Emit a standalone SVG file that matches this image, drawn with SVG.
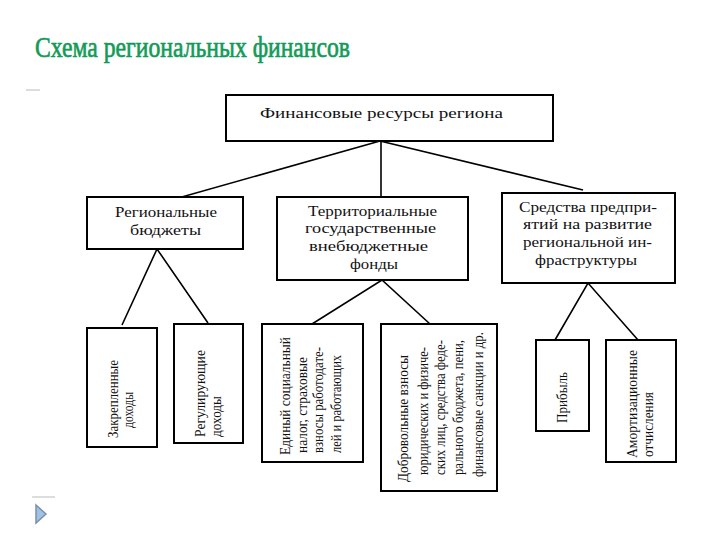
<svg xmlns="http://www.w3.org/2000/svg" width="720" height="540" viewBox="0 0 720 540">
<style>
.box{fill:#fff;stroke:#000;stroke-width:2}
.t{font-family:"Liberation Serif","Times New Roman",serif;font-size:15.5px;fill:#111}
.v{font-family:"Liberation Serif","Times New Roman",serif;font-size:14px;fill:#111}
.c{stroke:#000;stroke-width:1.6;fill:none}
</style>
<rect width="720" height="540" fill="#fff"/>
<text x="35" y="57" font-family="'Liberation Serif','Times New Roman',serif" font-size="30" fill="#129b58" stroke="#129b58" stroke-width="0.7" textLength="315" lengthAdjust="spacingAndGlyphs">Схема региональных финансов</text>
<line x1="26" y1="90" x2="40" y2="90" stroke="#bbb" stroke-width="1"/>
<line x1="32" y1="497" x2="55" y2="497" stroke="#bbb" stroke-width="1"/>
<polygon points="36,505 46,514 36,523" fill="#9cc3e6" stroke="#7f8fa6" stroke-width="1.5"/>
<g id="connectors">
<path class="c" d="M380,141 L157,204"/>
<path class="c" d="M381,141 L381,197"/>
<path class="c" d="M380,141 L583,190"/>
<path class="c" d="M122,325 L157,249 L208,323"/>
<path class="c" d="M312,324 L382,280 L430,324"/>
<path class="c" d="M555,340 L588,283 L638,340"/>
</g>
<g id="n-top">
<rect class="box" x="226" y="95" width="327" height="46"/>
<text class="t" x="260" y="118" textLength="243" lengthAdjust="spacingAndGlyphs">Финансовые ресурсы региона</text>
</g>
<g id="n-budgets">
<rect class="box" x="87" y="197" width="156" height="52"/>
<text class="t" x="115" y="217" textLength="102" lengthAdjust="spacingAndGlyphs">Региональные</text>
<text class="t" x="130" y="235" textLength="71" lengthAdjust="spacingAndGlyphs">бюджеты</text>
</g>
<g id="n-funds">
<rect class="box" x="277" y="197" width="191" height="83"/>
<text class="t" x="308" y="216" textLength="129" lengthAdjust="spacingAndGlyphs">Территориальные</text>
<text class="t" x="305" y="233" textLength="131" lengthAdjust="spacingAndGlyphs">государственные</text>
<text class="t" x="309" y="251" textLength="119" lengthAdjust="spacingAndGlyphs">внебюджетные</text>
<text class="t" x="350" y="269" textLength="48" lengthAdjust="spacingAndGlyphs">фонды</text>
</g>
<g id="n-enterprise">
<rect class="box" x="502" y="193" width="173" height="90"/>
<text class="t" x="519" y="212" textLength="138" lengthAdjust="spacingAndGlyphs">Средства предпри-</text>
<text class="t" x="523" y="229" textLength="129" lengthAdjust="spacingAndGlyphs">ятий на развитие</text>
<text class="t" x="523" y="247" textLength="129" lengthAdjust="spacingAndGlyphs">региональной ин-</text>
<text class="t" x="535" y="265" textLength="102" lengthAdjust="spacingAndGlyphs">фраструктуры</text>
</g>
<g id="n-fixed">
<rect class="box" x="87" y="328" width="70" height="119"/>
<text class="v" transform="translate(118,438) rotate(-90)" textLength="78" lengthAdjust="spacingAndGlyphs">Закрепленные</text>
<text class="v" transform="translate(133,428) rotate(-90)" textLength="36" lengthAdjust="spacingAndGlyphs">доходы</text>
</g>
<g id="n-regulating">
<rect class="box" x="174" y="324" width="69" height="119"/>
<text class="v" transform="translate(205,437) rotate(-90)" textLength="87" lengthAdjust="spacingAndGlyphs">Регулирующие</text>
<text class="v" transform="translate(221,437) rotate(-90)" textLength="41" lengthAdjust="spacingAndGlyphs">доходы</text>
</g>
<g id="n-social">
<rect class="box" x="262" y="324" width="101" height="138"/>
<text class="v" transform="translate(290,455) rotate(-90)" textLength="118" lengthAdjust="spacingAndGlyphs">Единый социальный</text>
<text class="v" transform="translate(307,453) rotate(-90)" textLength="96" lengthAdjust="spacingAndGlyphs">налог, страховые</text>
<text class="v" transform="translate(323,453) rotate(-90)" textLength="106" lengthAdjust="spacingAndGlyphs">взносы работодате-</text>
<text class="v" transform="translate(341,453) rotate(-90)" textLength="98" lengthAdjust="spacingAndGlyphs">лей и работающих</text>
</g>
<g id="n-voluntary">
<rect class="box" x="381" y="324" width="116" height="167"/>
<text class="v" transform="translate(408,482) rotate(-90)" textLength="127" lengthAdjust="spacingAndGlyphs">Добровольные взносы</text>
<text class="v" transform="translate(428,475) rotate(-90)" textLength="128" lengthAdjust="spacingAndGlyphs">юридических и физиче-</text>
<text class="v" transform="translate(445,475) rotate(-90)" textLength="135" lengthAdjust="spacingAndGlyphs">ских лиц, средства феде-</text>
<text class="v" transform="translate(463,475) rotate(-90)" textLength="135" lengthAdjust="spacingAndGlyphs">рального бюджета, пени,</text>
<text class="v" transform="translate(483,477) rotate(-90)" textLength="145" lengthAdjust="spacingAndGlyphs">финансовые санкции и др.</text>
</g>
<g id="n-profit">
<rect class="box" x="536" y="340" width="53" height="91"/>
<text class="v" transform="translate(567,423) rotate(-90)" textLength="51" lengthAdjust="spacingAndGlyphs">Прибыль</text>
</g>
<g id="n-amort">
<rect class="box" x="606" y="340" width="70" height="122"/>
<text class="v" transform="translate(637,458) rotate(-90)" textLength="108" lengthAdjust="spacingAndGlyphs">Амортизационные</text>
<text class="v" transform="translate(653,457) rotate(-90)" textLength="65" lengthAdjust="spacingAndGlyphs">отчисления</text>
</g>
</svg>
